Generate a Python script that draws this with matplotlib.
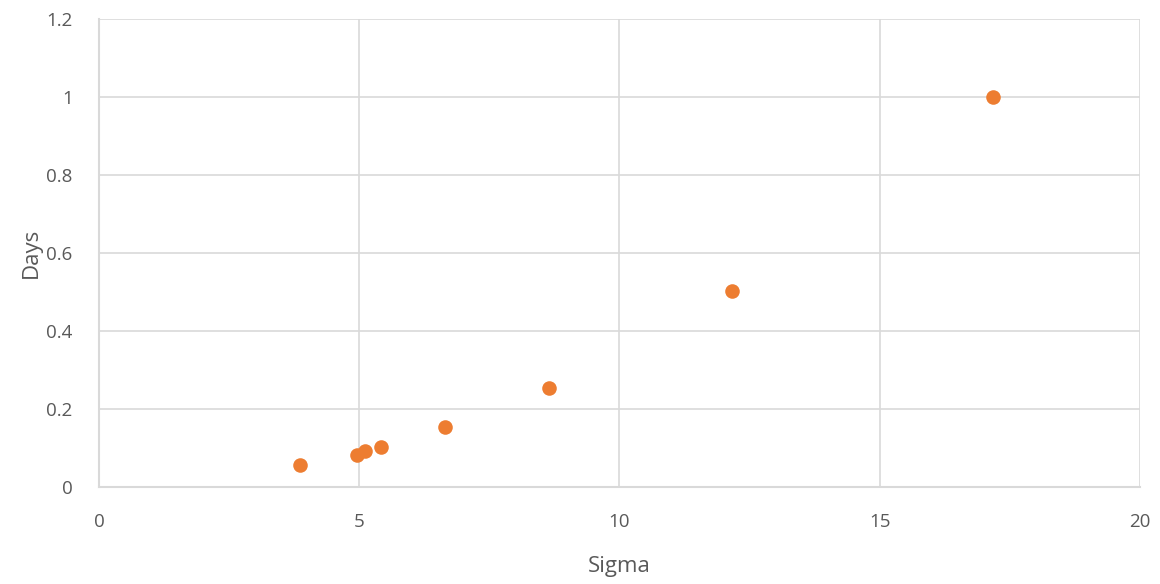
import matplotlib
matplotlib.use("Agg")
import matplotlib.pyplot as plt

# sigma vs. time in days
sigma = [3.86, 4.96, 5.11, 5.42, 6.65, 8.65, 12.16, 17.18]
days = [0.056, 0.083, 0.092, 0.102, 0.154, 0.254, 0.503, 1.0]

x_ticks = [0, 5, 10, 15, 20]
y_ticks = [0, 0.2, 0.4, 0.6, 0.8, 1, 1.2]
y_labels = ["0", "0.2", "0.4", "0.6", "0.8", "1", "1.2"]

text_color = "#595959"
grid_color = "#d9d9d9"

plt.rcParams["font.family"] = ["Open Sans", "DejaVu Sans"]

fig = plt.figure(figsize=(11.6, 5.84), dpi=100)
ax = fig.add_axes([0.0853, 0.1661, 0.8975, 0.8014])

ax.scatter(sigma, days, s=110, color="#ED7D31", zorder=3, linewidths=0)

ax.set_xlim(0, 20)
ax.set_ylim(0, 1.2)
ax.set_xticks(x_ticks)
ax.set_yticks(y_ticks)
ax.set_yticklabels(y_labels)

ax.grid(True, color=grid_color, linewidth=1.2)
ax.set_axisbelow(True)
for side in ["top", "right"]:
    ax.spines[side].set_visible(False)
for side in ["left", "bottom"]:
    ax.spines[side].set_color(grid_color)
    ax.spines[side].set_linewidth(1.5)

ax.tick_params(axis="both", length=0, labelsize=13.5, labelcolor=text_color)
ax.tick_params(axis="x", pad=19)
ax.tick_params(axis="y", pad=19)

ax.set_xlabel("Sigma", fontsize=16, color=text_color, labelpad=18)
ax.set_ylabel("Days", fontsize=16, color=text_color, labelpad=3)

fig.savefig("out.png", dpi=100)
